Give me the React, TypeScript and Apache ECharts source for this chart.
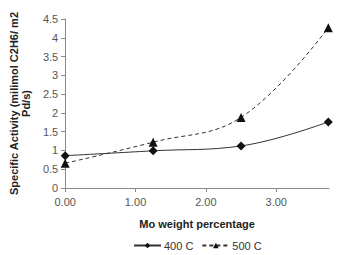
import React, { useEffect, useRef } from "react";
import * as echarts from "echarts";

const moWeight = [0, 1.25, 2.5, 3.74];
const activity400 = [0.86, 0.99, 1.12, 1.76];
const activity500 = [0.66, 1.22, 1.88, 4.27];
const xTicks = [0, 1, 2, 3];
const seriesNames = ["400 C", "500 C"];

export default function App() {
  const ref = useRef<HTMLDivElement>(null);
  useEffect(() => {
    document.body.style.margin = "0";
    if (!ref.current) return;
    const chart = echarts.init(ref.current, undefined, { renderer: "svg" });
    const font = "Liberation Sans, Arial, sans-serif";
    chart.setOption({
      animation: false,
      grid: { left: 60, right: 28, top: 19, bottom: 67 },
      legend: {
        top: 240,
        left: 133,
        padding: 0,
        itemWidth: 27,
        itemHeight: 7,
        itemGap: 8,
        textStyle: { fontFamily: font, fontSize: 11, color: "#333", padding: [0, 0, 0, -2] },
        data: seriesNames,
      },
      xAxis: {
        type: "value",
        min: 0,
        max: 3.75,
        interval: 1,
        name: "Mo weight percentage",
        nameLocation: "middle",
        nameGap: 30,
        nameTextStyle: { fontFamily: font, fontSize: 11, fontWeight: "bold", color: "#222" },
        axisLine: { lineStyle: { color: "#888" } },
        axisTick: { show: true, length: 4, lineStyle: { color: "#888" }, customValues: xTicks },
        axisLabel: {
          customValues: xTicks,
          formatter: (v: number) => v.toFixed(2),
          fontFamily: font,
          fontSize: 11,
          color: "#555",
          margin: 8,
        },
        splitLine: { show: false },
      },
      yAxis: {
        type: "value",
        min: 0,
        max: 4.5,
        interval: 0.5,
        name: "Specific Activity (milimol C2H6/ m2\nPd/s)",
        nameLocation: "middle",
        nameRotate: 90,
        nameGap: 27,
        nameTextStyle: { fontFamily: font, fontSize: 11, fontWeight: "bold", color: "#222", lineHeight: 12 },
        axisLine: { show: true, lineStyle: { color: "#888" } },
        axisTick: { show: true, length: 4, lineStyle: { color: "#888" } },
        axisLabel: { fontFamily: font, fontSize: 11, color: "#555", margin: 7 },
        splitLine: { show: false },
      },
      series: [
        {
          name: seriesNames[0],
          type: "line",
          data: moWeight.map((x, i) => [x, activity400[i]]),
          smooth: 0.4,
          symbol: "diamond",
          symbolSize: 9,
          itemStyle: { color: "#111" },
          lineStyle: { color: "#333", width: 1, type: "solid" },
        },
        {
          name: seriesNames[1],
          type: "line",
          data: moWeight.map((x, i) => [x, activity500[i]]),
          smooth: 0.4,
          symbol: "triangle",
          symbolSize: 9,
          itemStyle: { color: "#111" },
          lineStyle: { color: "#333", width: 1, type: [4, 3] },
        },
      ],
    });
    return () => chart.dispose();
  }, []);
  return <div ref={ref} style={{ width: 357, height: 255 }} />;
}
